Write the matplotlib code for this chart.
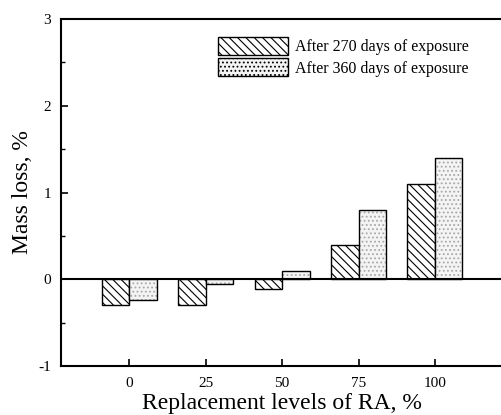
import numpy as np
import matplotlib
matplotlib.use('Agg')
import matplotlib.pyplot as plt
from matplotlib.ticker import MultipleLocator

#%% data
levels = [0, 25, 50, 75, 100]
loss_270 = [-0.30, -0.30, -0.11, 0.40, 1.10]
loss_360 = [-0.24, -0.06, 0.10, 0.80, 1.40]
labels = ['After 270 days of exposure', 'After 360 days of exposure']

plt.rcParams['font.family'] = ['Liberation Serif', 'DejaVu Serif']
plt.rcParams['hatch.linewidth'] = 0.8
plt.rcParams['axes.unicode_minus'] = False

#%% plot
fig = plt.figure(figsize=(5.02, 4.15), dpi=100)
ax = fig.add_axes([61/502, 49/415, 442/502, 347/415])

x = np.array(levels, dtype=float)
w = 9.0

# hatched bars (270 days)
ax.bar(x - w/2, loss_270, width=w, facecolor='white', edgecolor='black',
       hatch='\\\\\\\\', linewidth=1.0)
# stippled bars (360 days): fill with grey dots, then black outline
ax.bar(x + w/2, loss_360, width=w, facecolor='#f4f4f4', edgecolor='#a8a8a8',
       hatch='....', linewidth=0)
ax.bar(x + w/2, loss_360, width=w, fill=False, edgecolor='black', linewidth=1.0)

ax.axhline(0, color='black', linewidth=1.5)

ax.set_xlim(-22.4, 122.3)
ax.set_ylim(-1, 3)
ax.set_xticks(levels)
ax.yaxis.set_major_locator(MultipleLocator(1))
ax.yaxis.set_minor_locator(MultipleLocator(0.5))
ax.tick_params(direction='in', length=5, width=1.2, labelsize=11)
ax.tick_params(which='minor', direction='in', length=3, width=1.0)
ax.tick_params(axis='x', pad=8)
ax.tick_params(axis='y', pad=7)
for s in ax.spines.values():
    s.set_linewidth(1.5)

ax.set_xlabel('Replacement levels of RA, %', fontsize=17, labelpad=2)
ax.set_ylabel('Mass loss, %', fontsize=17, labelpad=4)

# legend proxies
h1 = plt.Rectangle((0, 0), 1, 1, facecolor='white', edgecolor='black', hatch='\\\\\\\\', linewidth=1.0)
h2 = plt.Rectangle((0, 0), 1, 1, facecolor='#f4f4f4', edgecolor='black', hatch='....', linewidth=1.0)
ax.legend([h1, h2], labels, loc='upper left', bbox_to_anchor=(218/502, 1 - 37/415),
          bbox_transform=fig.transFigure, frameon=False, fontsize=11.5,
          handlelength=4.4, handleheight=1.35, handletextpad=0.45, labelspacing=0.2,
          borderpad=0, borderaxespad=0)

fig.savefig('out.png', dpi=100)
